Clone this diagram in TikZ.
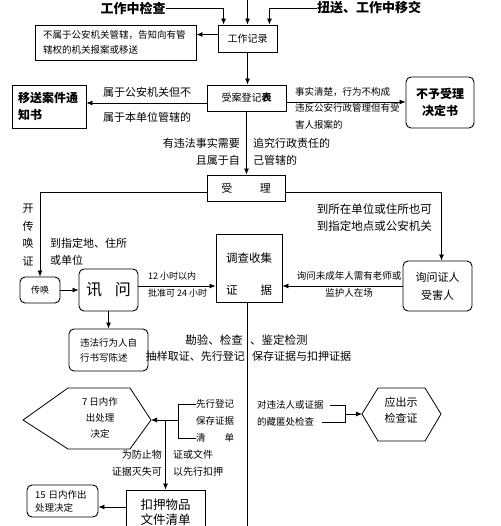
\documentclass[tikz,border=0pt]{standalone}
\usepackage{fontspec}
\usepackage{tikz}
\usetikzlibrary{arrows.meta}
\setmainfont{Noto Sans CJK SC}
\newcommand\fsz[2]{\fontsize{#1}{#2}\selectfont}
\newcommand\hdr{\fsz{13}{15}\bfseries}
\newcommand\sm{\fsz{9.5}{15}}
\newcommand\md{\fsz{11}{17}}

\begin{document}
\begin{tikzpicture}[x=1pt,y=-1pt,
      box/.style={rectangle,draw,line width=0.9pt,align=center,inner sep=0pt},
      rbox/.style={box,rounded corners=5pt},
      lbl/.style={inner sep=0pt,align=left},
      ln/.style={line width=0.8pt},
      arr/.style={line width=0.8pt,-{Latex[length=6pt,width=5pt]}}]
    \useasboundingbox (0,0) rectangle (500,526);
    \node[lbl,font=\hdr] (jc) at (133,8) {工作中检查};
    \node[lbl,font=\hdr] (ns) at (369,8) {扭送、工作中移交};
    \coordinate (top) at (247.5,0);
    \coordinate (bot) at (247,526);
    \node[box,minimum width=59,minimum height=27,font=\fsz{10}{12}] (jlu) at (247.5,38.5) {工作记录};
    \node[box,align=left,minimum width=161,minimum height=35,text width=145,font=\sm] (gz) at (115.5,42.5) {不属于公安机关管辖，告知向有管\\辖权的机关报案或移送};
    \node[box,minimum width=79,minimum height=26,font=\fsz{10}{12}] (sa) at (246.5,98) {受案登记{\bfseries 表}};
    \node[box,align=left,minimum width=74,minimum height=43,text width=62,font=\fsz{12}{17}\bfseries] (yszs) at (49,106.5) {移送案件通\\知书};
    \node[rbox,minimum width=68,minimum height=51,font=\fsz{12}{17}\bfseries] (byl) at (440,102.5) {不予受理\\决定书};
    \node[box,minimum width=78,minimum height=26,font=\md] (sl) at (246,188) {受\hspace{2.5em}理};
    \node[rbox,minimum width=40,minimum height=26,font=\fsz{9}{11}] (ch) at (40,290) {传唤};
    \node[rbox,minimum width=59,minimum height=42,font=\fsz{16}{18}] (xw) at (108.5,290) {讯\hspace{0.8em}问};
    \node[box,minimum width=66,minimum height=68] (dc) at (249,268) {};
    \node[lbl,align=center,font=\fsz{11.5}{32}] (dct) at (249,274) {调查收集\\证\hspace{2em}据};
    \node[rbox,align=left,minimum width=79,minimum height=42,text width=57,font=\sm] (zs) at (108.5,350) {违法行为人自\\行书写陈述};
    \node[rbox,minimum width=69,minimum height=50,font=\fsz{11}{18}] (xwzr) at (437.5,286) {询问证人\\受害人};
    \node[box,minimum width=79,minimum height=44,font=\fsz{12.5}{15}] (ky) at (165.5,512) {扣押物品\\文件清单};
    \node[rbox,align=left,minimum width=71,minimum height=32,text width=55,font=\fsz{9.5}{13}] (jd15) at (62.5,501) {15 日内作出\\处理决定};

    \coordinate (h7l) at (23,420);
    \coordinate (h7r) at (151,420);
    \draw[ln] (h7l) -- (68,388) -- (130,388) -- (h7r) -- (130,449) -- (68,449) -- cycle;
    \node[lbl,align=center,font=\fsz{9.5}{16}] (h7) at (100,418) {7 日内作\\出处理\\决定};
    \coordinate (hjl) at (362,414);
    \coordinate (hjr) at (441,414);
    \draw[ln] (hjl) -- (378,388) -- (425,388) -- (hjr) -- (425,441) -- (378,441) -- cycle;
    \node[lbl,align=center,font=\fsz{11}{16}] (hj) at (401,410) {应出示\\检查证};

    \draw[arr] (top) -- (jlu.north);
    \draw[arr] (jc.east) -| ([xshift=6pt]jlu.north west);
    \draw[arr] (ns.west) -| ([xshift=-8pt]jlu.north east);
    \draw[arr] ([yshift=4pt]jlu.west) -- ([yshift=4pt]jlu.west -| gz.east);
    \draw[arr] (jlu.south) -- (jlu.south |- sa.north);

    \draw[arr] ([yshift=-5pt]sa.west) -- ([yshift=-5pt]sa.west -| yszs.east);
    \node[lbl,font=\md] (l1) at (147,92) {属于公安机关但不};
    \node[lbl,font=\md] (l2) at (147,117) {属于本单位管辖的};
    \draw[arr] ([yshift=-4pt]sa.east) -- ([yshift=-4pt]sa.east -| byl.west);
    \node[lbl,anchor=west,font=\sm] (r1) at (295,92) {事实清楚，行为不构成};
    \node[lbl,anchor=west,font=\sm] (r2) at (295,108) {违反公安行政管理但有受};
    \node[lbl,anchor=west,font=\sm] (r3) at (295,125) {害人报案的};

    \draw[arr] (sa.south) -- (sa.south |- sl.north);
    \node[lbl,anchor=east,font=\md] (m1) at (240,143) {有违法事实需要};
    \node[lbl,anchor=east,font=\md] (m2) at (240,160) {且属于自};
    \node[lbl,anchor=west,font=\md] (m3) at (253,143) {追究行政责任的};
    \node[lbl,anchor=west,font=\md] (m4) at (253,160) {己管辖的};

    \draw[arr] ([yshift=-4pt]sl.west) -| (ch.north);
    \node[lbl,align=center,font=\fsz{11}{17.6}] (kc) at (28,235) {开\\传\\唤\\证};
    \node[lbl,anchor=west,font=\md] (zd) at (50,251.5) {到指定地、住所\\或单位};
    \draw[arr] ([yshift=-4pt]sl.east) -| ([xshift=4pt]xwzr.north);
    \node[lbl,anchor=east,font=\fsz{11.5}{17}] (dw1) at (432,209) {到所在单位或住所也可};
    \node[lbl,anchor=east,font=\fsz{11.5}{17}] (dw2) at (432,226) {到指定地点或公安机关};

    \draw[arr] (ch.east) -- (xw.west);
    \draw[arr] ([yshift=4pt]xw.east) -- ([yshift=4pt]xw.east -| dc.west);
    \node[lbl,anchor=west,font=\fsz{9}{11}] (t1) at (148,276) {12 小时以内};
    \node[lbl,anchor=west,font=\fsz{9}{11}] (t2) at (148,293) {批准可 24 小时};
    \draw[arr] (xwzr.west) -- (xwzr.west -| dc.east);
    \node[lbl,font=\sm] (w1) at (349,276) {询问未成年人需有老师或};
    \node[lbl,font=\sm] (w2) at (349,293) {监护人在场};
    \draw[arr] (xw.south) -- (xw.south |- zs.north);

    \draw[ln] (bot |- dc.south) -- (bot);
    \node[lbl,anchor=east,font=\fsz{11.5}{14}] (k1) at (243,340) {勘验、检查};
    \node[lbl,anchor=west,font=\fsz{11.5}{14}] (k2) at (250,340) {、鉴定检测};
    \node[lbl,anchor=east,font=\md] (k3) at (245,356) {抽样取证、先行登记};
    \node[lbl,anchor=west,font=\md] (k4) at (252,356) {保存证据与扣押证据};

    \node[lbl,anchor=west,font=\sm] (dj1) at (196,404) {先行登记};
    \node[lbl,anchor=west,font=\sm] (dj2) at (196,421) {保存证据};
    \node[lbl,anchor=west,font=\sm] (dj3) at (196,438) {清\hspace{2em}单};
    \coordinate (zj) at (178,420);
    \draw[ln] (dj1.west) -| (zj);
    \draw[ln] (dj3.west) -| (zj);
    \draw[arr] (zj) -- (h7r);
    \draw[arr] (ky.north |- zj) -- (ky.north);
    \node[lbl,anchor=east,font=\fsz{10}{12}] (f1) at (162,455) {为防止物};
    \node[lbl,anchor=east,font=\fsz{10}{12}] (f2) at (162,472) {证据灭失可};
    \node[lbl,anchor=west,font=\fsz{10}{12}] (f3) at (173,455) {证或文件};
    \node[lbl,anchor=west,font=\fsz{10}{12}] (f4) at (173,472) {以先行扣押};
    \draw[arr] ([yshift=5pt]ky.west) -- ([yshift=5pt]ky.west -| jd15.east);

    \node[lbl,anchor=west,font=\sm] (jc1) at (257,405) {对违法人或证据};
    \node[lbl,anchor=west,font=\sm] (jc2) at (257,422) {的藏匿处检查};
    \coordinate (zj2) at (345,414);
    \draw[ln] ([xshift=6pt]jc1.east) -| (zj2);
    \draw[ln] ([xshift=8pt]jc2.east) -| (zj2);
    \draw[arr] (zj2) -- (hjl);
  \end{tikzpicture}
\end{document}
